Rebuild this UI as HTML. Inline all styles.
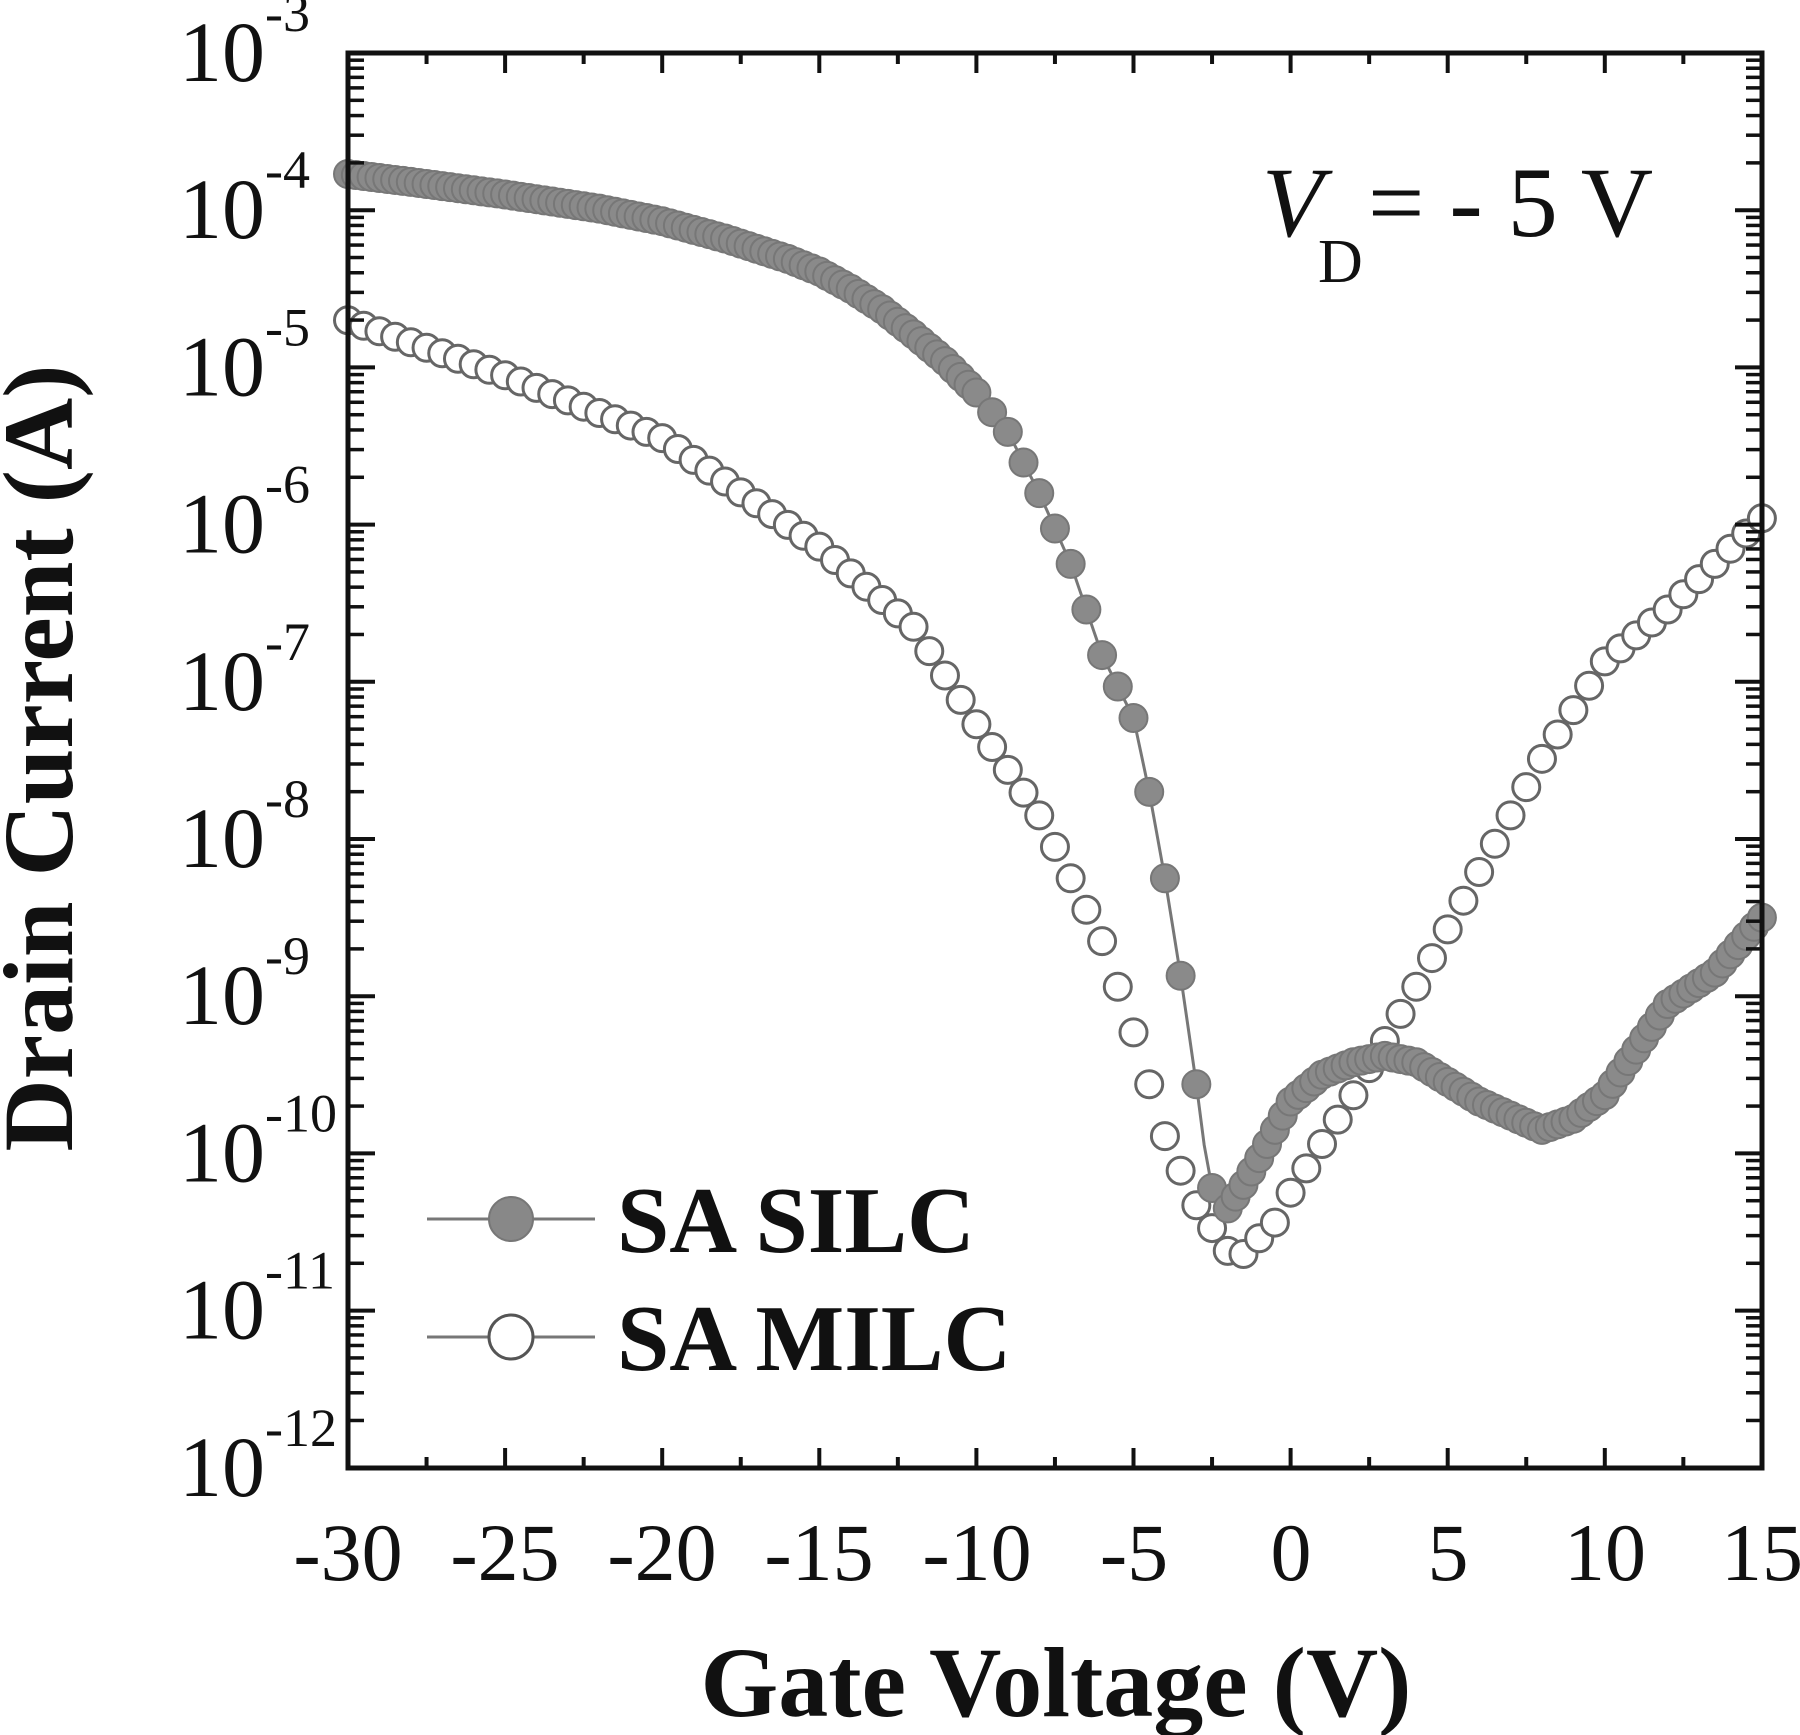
<!DOCTYPE html>
<html><head><meta charset="utf-8"><style>body{margin:0;background:#fff}svg{display:block}</style></head>
<body>
<svg id="s" xmlns="http://www.w3.org/2000/svg" width="1800" height="1735" viewBox="0 0 1800 1735" font-family="Liberation Serif, serif">
<g id="data"></g>
<g id="axes"></g>
<g font-size="82" fill="#111" text-anchor="middle">
<text x="348" y="1580">-30</text><text x="505" y="1580">-25</text><text x="662" y="1580">-20</text>
<text x="819" y="1580">-15</text><text x="977" y="1580">-10</text><text x="1134" y="1580">-5</text>
<text x="1291" y="1580">0</text><text x="1448" y="1580">5</text><text x="1605" y="1580">10</text><text x="1762" y="1580">15</text>
</g>
<g id="ylab" font-size="86" fill="#111"></g>
<text x="1056" y="1716" font-size="100" font-weight="bold" text-anchor="middle" fill="#111">Gate Voltage (V)</text>
<text transform="translate(72,758) rotate(-90)" font-size="100" font-weight="bold" text-anchor="middle" fill="#111">Drain Current (A)</text>
<text x="1262" y="236" font-size="100" fill="#111"><tspan font-style="italic">V</tspan></text>
<text x="1318" y="282" font-size="62" fill="#111">D</text>
<text x="1368" y="236" font-size="100" fill="#111">= - 5 V</text>
<line x1="427" y1="1219" x2="595" y2="1219" stroke="#777" stroke-width="3"/>
<circle cx="511" cy="1219" r="22" fill="#888" stroke="#777" stroke-width="2"/>
<line x1="427" y1="1337" x2="595" y2="1337" stroke="#777" stroke-width="3"/>
<circle cx="511" cy="1337" r="22" fill="#fff" stroke="#555" stroke-width="3"/>
<text x="617" y="1252" font-size="94" font-weight="bold" fill="#111">SA SILC</text>
<text x="617" y="1370" font-size="94" font-weight="bold" fill="#111">SA MILC</text>
</svg>
<script>
var NS="http://www.w3.org/2000/svg";
function X(v){return 348+(v+30)*31.42}
function Y(l){return 53+(-3-l)*157.2}
function el(t,a,p){var e=document.createElementNS(NS,t);for(var k in a)e.setAttribute(k,a[k]);p.appendChild(e);return e}
function interp(tab,v){for(var i=0;i<tab.length-1;i++){if(v<=tab[i+1][0]){var a=tab[i],b=tab[i+1],t=(v-a[0])/(b[0]-a[0]);return a[1]+t*(b[1]-a[1]);}}return tab[tab.length-1][1]}
var silc=[[-30,-3.77],[-28,-3.82],[-25,-3.9],[-22,-3.99],[-20,-4.07],[-18,-4.18],[-16,-4.31],[-15,-4.39],[-14,-4.5],[-13,-4.63],[-12,-4.79],[-11,-4.96],[-10,-5.16],[-9,-5.41],[-8,-5.8],[-7,-6.25],[-6,-6.83],[-5,-7.23],[-4.5,-7.7],[-4,-8.25],[-3.5,-8.87],[-3,-9.56],[-2.6,-10.18],[-2.1,-10.38],[-1.5,-10.2],[-1,-10.03],[0,-9.67],[1,-9.5],[2,-9.42],[3,-9.38],[4,-9.42],[6,-9.67],[8,-9.85],[9,-9.78],[10,-9.63],[12,-9.05],[13.5,-8.85],[15,-8.5]];
var milc=[[-30,-4.7],[-25,-5.05],[-20,-5.45],[-15,-6.14],[-12,-6.65],[-10,-7.27],[-8,-7.85],[-6,-8.65],[-5,-9.23],[-4,-9.89],[-3,-10.33],[-2,-10.62],[-1.5,-10.64],[-0.5,-10.44],[0,-10.25],[2,-9.63],[4,-8.94],[6,-8.21],[8,-7.49],[10,-6.87],[12,-6.54],[15,-5.96]];
var d=document.getElementById("data");
var pts=[];for(var v=-30;v<=15.001;v+=0.25){pts.push(X(v).toFixed(1)+","+Y(interp(silc,v)).toFixed(1))}
el("polyline",{points:pts.join(" "),fill:"none",stroke:"#777","stroke-width":3},d);
for(var v=-30;v<=15.001;v+=0.5){el("circle",{cx:X(v),cy:Y(interp(milc,v)),r:13.5,fill:"#fff",stroke:"#666","stroke-width":3},d)}
for(var v=-30;v<=15.001;v+=0.25){if(v>-10&&v<-2&&Math.abs(v*2-Math.round(v*2))>0.01)continue;
el("circle",{cx:X(v),cy:Y(interp(silc,v)),r:14,fill:"#8a8a8a",stroke:"#777","stroke-width":2},d)}
var a=document.getElementById("axes");
el("rect",{x:348,y:53,width:1414,height:1415,fill:"none",stroke:"#111","stroke-width":5},a);
for(var v=-30;v<=15;v+=2.5){var L=(v%5==0)?20:11;el("line",{x1:X(v),y1:1468,x2:X(v),y2:1468-L,stroke:"#111","stroke-width":4},a);el("line",{x1:X(v),y1:53,x2:X(v),y2:53+L,stroke:"#111","stroke-width":4},a)}
for(var e=-12;e<=-3;e++){var y=Y(e);el("line",{x1:348,y1:y,x2:375,y2:y,stroke:"#111","stroke-width":4},a);el("line",{x1:1762,y1:y,x2:1735,y2:y,stroke:"#111","stroke-width":4},a);
if(e<-3)for(var m=2;m<=9;m++){var yy=Y(e+Math.log10(m));el("line",{x1:348,y1:yy,x2:364,y2:yy,stroke:"#111","stroke-width":3.5},a);el("line",{x1:1762,y1:yy,x2:1746,y2:yy,stroke:"#111","stroke-width":3.5},a)}}
var yl=document.getElementById("ylab");
for(var e=-12;e<=-3;e++){var y=Y(e)+28;var t=el("text",{x:265,y:y,"text-anchor":"end"},yl);t.textContent="10";var s=el("text",{x:265,y:y-50,"font-size":54},yl);s.textContent=String(e)}
</script>
</body></html>
